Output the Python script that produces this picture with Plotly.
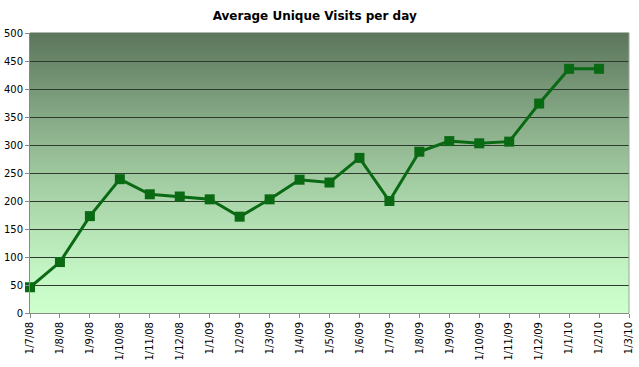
import plotly.graph_objects as go

months = ["1/7/08", "1/8/08", "1/9/08", "1/10/08", "1/11/08", "1/12/08",
          "1/1/09", "1/2/09", "1/3/09", "1/4/09", "1/5/09", "1/6/09",
          "1/7/09", "1/8/09", "1/9/09", "1/10/09", "1/11/09", "1/12/09",
          "1/1/10", "1/2/10", "1/3/10"]
visits = [46, 91, 173, 239, 212, 208, 203, 172, 203, 238, 233, 277,
          200, 288, 307, 303, 306, 374, 436, 436]
y_ticks = [0, 50, 100, 150, 200, 250, 300, 350, 400, 450, 500]

fig = go.Figure()
fig.add_trace(go.Scatter(
    x=months[:len(visits)], y=visits, mode="lines+markers",
    line=dict(color="#0a6a14", width=3),
    marker=dict(symbol="square", size=10, color="#0a6a14"),
    showlegend=False, cliponaxis=False,
))

# background gradient bands
top = (92, 118, 92)
bottom = (204, 255, 204)
n = 140
shapes = []
for i in range(n):
    t = (i / (n - 1)) ** 1.3
    c = tuple(int(round(bottom[k] + (top[k] - bottom[k]) * t)) for k in range(3))
    shapes.append(dict(type="rect", xref="x domain", yref="y domain",
                       x0=0, x1=1, y0=i / n, y1=(i + 1) / n + 0.002,
                       fillcolor="rgb(%d,%d,%d)" % c, line=dict(width=0),
                       layer="below"))
shapes.append(dict(type="line", xref="x domain", yref="y domain", x0=1, x1=1,
                   y0=0, y1=1, line=dict(color="#a0a0a0", width=1)))

fig.update_layout(
    width=639, height=367,
    margin=dict(l=30, r=10, t=33, b=54),
    paper_bgcolor="white", plot_bgcolor="rgba(0,0,0,0)",
    title=dict(text="<b>Average Unique Visits per day</b>", x=0.4925, xanchor="center",
               y=1 - 16 / 367, yanchor="middle",
               font=dict(family="DejaVu Sans", size=12, color="black")),
    font=dict(family="DejaVu Sans", size=10, color="black"),
    shapes=shapes,
)
fig.update_xaxes(
    type="category", categoryorder="array", categoryarray=months,
    tickvals=months, ticktext=months, range=[0, len(months) - 1],
    tickangle=-90, ticks="outside", ticklen=4, tickcolor="#888",
    showline=True, linecolor="#888", linewidth=1, showgrid=False,
    tickfont=dict(family="DejaVu Sans", size=10), automargin=False,
)
fig.update_yaxes(
    range=[0, 500], tickvals=y_ticks, ticks="outside", ticklen=4, tickcolor="#888",
    showline=True, linecolor="#888", linewidth=1,
    showgrid=True, gridcolor="#2e3a2e", gridwidth=1, zeroline=False,
    tickfont=dict(family="DejaVu Sans", size=10), automargin=False,
)
fig.write_html("out.html", config={"displayModeBar": False},
               post_script="document.body.style.margin='0px';"
                           "document.body.style.overflow='hidden';")
